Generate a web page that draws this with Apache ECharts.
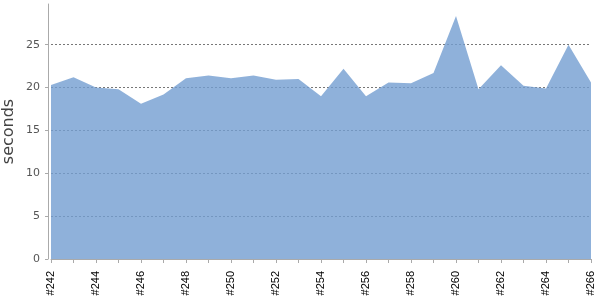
<!DOCTYPE html>
<html><head><meta charset="utf-8">
<script src="https://cdn.jsdelivr.net/npm/echarts@6/dist/echarts.min.js"></script>
<style>html,body{margin:0;padding:0;background:#fff}#c{width:600px;height:300px}</style>
</head><body><div id="c"></div>
<script>
const categories = ['#242','#243','#244','#245','#246','#247','#248','#249','#250','#251','#252','#253','#254','#255','#256','#257','#258','#259','#260','#261','#262','#263','#264','#265','#266'];
const seconds = [20.3,21.2,20.0,19.8,18.1,19.2,21.1,21.4,21.1,21.4,20.9,21.0,19.0,22.2,19.0,20.6,20.5,21.7,28.35,19.8,22.6,20.2,19.9,25.0,20.6];
const yTicks = [0,5,10,15,20,25];

const chart = echarts.init(document.getElementById('c'), null, {renderer:'canvas'});
chart.setOption({
  animation:false,
  grid:{left:51,right:9,top:4,bottom:41,containLabel:false,outerBoundsMode:'none'},
  xAxis:{
    type:'category', data:categories, boundaryGap:false, offset:4,
    axisLine:{lineStyle:{color:'#aaa'}},
    axisTick:{show:true, interval:0, length:4, lineStyle:{color:'#aaa'}},
    axisLabel:{interval:1, rotate:90, margin:8, fontFamily:'Liberation Sans', fontSize:11, color:'#000'},
    splitLine:{show:false}
  },
  yAxis:{
    type:'value', min:0, max:29.75, offset:3,
    name:'seconds', nameLocation:'middle', nameGap:31, nameMoveOverlap:false,
    nameTextStyle:{fontFamily:'DejaVu Sans', fontSize:16, color:'#444', fontWeight:500},
    axisLine:{show:true, lineStyle:{color:'#aaa'}},
    axisTick:{show:true, length:3, customValues:yTicks, lineStyle:{color:'#aaa'}},
    axisLabel:{customValues:yTicks, margin:8, fontFamily:'DejaVu Sans', fontSize:11, color:'#555'},
    splitLine:{show:true, lineStyle:{color:'#777', type:[2,2], width:1}}
  },
  series:[{
    type:'line', data:seconds, symbol:'none',
    lineStyle:{width:0},
    areaStyle:{color:'rgba(115,158,209,0.8)', opacity:1}
  }]
});
</script></body></html>
